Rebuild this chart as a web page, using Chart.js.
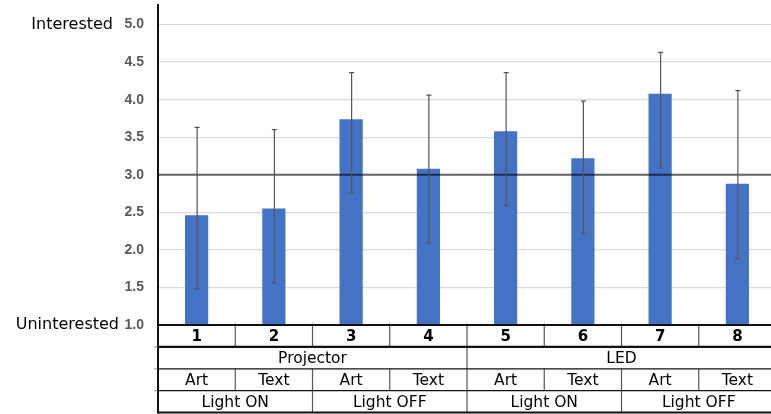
<!DOCTYPE html>
<html><head><meta charset="utf-8">
<script src="https://cdn.jsdelivr.net/npm/chart.js@4.4.1/dist/chart.umd.min.js"></script>
<style>html,body{margin:0;padding:0;background:#fff;overflow:hidden;width:771px;height:414px}#wrap{width:776px;height:414px}canvas{display:block}</style>
</head><body><div id="wrap"><canvas id="c" width="776" height="414"></canvas></div>
<script>
const categories = ['1','2','3','4','5','6','7','8'];
const means = [2.46, 2.55, 3.74, 3.08, 3.58, 3.22, 4.08, 2.88];
const errUpper = [3.63, 3.60, 4.36, 4.06, 4.36, 3.98, 4.63, 4.12];
const errLower = [1.48, 1.56, 2.76, 2.09, 2.59, 2.22, 3.09, 1.88];
const displayTypes = ['Projector', 'LED'];
const contentTypes = ['Art', 'Text', 'Art', 'Text', 'Art', 'Text', 'Art', 'Text'];
const lightStates = ['Light ON', 'Light OFF', 'Light ON', 'Light OFF'];
const yTickValues = [1.0, 1.5, 2.0, 2.5, 3.0, 3.5, 4.0, 4.5, 5.0];
const yEndLabels = ['Uninterested', 'Interested'];
const referenceValue = 3.0;

const TXT_FONT = '"DejaVu Sans", "Noto Sans", sans-serif';

const tablePlugin = {
  id: 'tablePlugin',
  afterDatasetsDraw(chart) {
    const ctx = chart.ctx, ca = chart.chartArea;
    const ys = chart.scales.y;
    const yr = ys.getPixelForValue(referenceValue);
    ctx.save();
    ctx.strokeStyle = 'rgba(0,0,0,0.62)';
    ctx.lineWidth = 2;
    ctx.beginPath(); ctx.moveTo(ca.left, yr); ctx.lineTo(ca.right, yr); ctx.stroke();
    const meta = chart.getDatasetMeta(0);
    ctx.strokeStyle = '#555';
    ctx.lineWidth = 1.2;
    meta.data.forEach((bar, i) => {
      const x = bar.x + 0.5;
      const yt = ys.getPixelForValue(errUpper[i]);
      const yb = ys.getPixelForValue(errLower[i]);
      ctx.beginPath();
      ctx.moveTo(x, yt); ctx.lineTo(x, yb);
      ctx.moveTo(x - 2.5, yt); ctx.lineTo(x + 2.5, yt);
      ctx.moveTo(x - 2.5, yb); ctx.lineTo(x + 2.5, yb);
      ctx.stroke();
    });
    ctx.restore();
  },
  afterDraw(chart) {
    const ctx = chart.ctx, ca = chart.chartArea;
    const xs = chart.scales.x, ys = chart.scales.y;
    const n = categories.length;
    const catW = xs.getPixelForValue(1) - xs.getPixelForValue(0);
    const x0 = xs.getPixelForValue(0) - catW / 2;
    const bx = i => x0 + catW * i;
    const top = ca.bottom;
    const rowH = 21.9;
    const ry = r => top + rowH * r;
    ctx.save();
    ctx.strokeStyle = '#d0d0d0'; ctx.lineWidth = 1;
    for (let i = 1; i < n; i++) { ctx.beginPath(); ctx.moveTo(bx(i), top - 3); ctx.lineTo(bx(i), top); ctx.stroke(); }
    ctx.strokeStyle = '#999';
    for (let r = 1; r <= 3; r++) { ctx.beginPath(); ctx.moveTo(ca.left - 4, ry(r)); ctx.lineTo(ca.left, ry(r)); ctx.stroke(); }
    ctx.strokeStyle = '#555'; ctx.lineWidth = 1.2;
    const vrows = [
      [1,2,3,4,5,6,7],
      [4],
      [1,2,3,4,5,6,7],
      [2,4,6]
    ];
    vrows.forEach((list, r) => {
      list.forEach(i => {
        ctx.beginPath(); ctx.moveTo(bx(i), ry(r)); ctx.lineTo(bx(i), ry(r + 1)); ctx.stroke();
      });
    });
    ctx.strokeStyle = '#111';
    const hw = [2.2, 2.4, 1.3, 1.3, 2];
    hw.forEach((w, r) => {
      ctx.lineWidth = w;
      ctx.beginPath(); ctx.moveTo(ca.left, ry(r)); ctx.lineTo(bx(n) + 2, ry(r)); ctx.stroke();
    });
    ctx.strokeStyle = '#111'; ctx.lineWidth = 2;
    ctx.beginPath(); ctx.moveTo(ca.left, ca.top); ctx.lineTo(ca.left, ry(4) + 1); ctx.stroke();
    ctx.fillStyle = '#000';
    ctx.textAlign = 'center'; ctx.textBaseline = 'middle';
    ctx.font = 'bold 15px ' + TXT_FONT;
    categories.forEach((c, i) => ctx.fillText(c, (bx(i) + bx(i + 1)) / 2, ry(0.5) + 1));
    ctx.font = '15.5px ' + TXT_FONT;
    const span2 = n / displayTypes.length;
    displayTypes.forEach((d, k) => ctx.fillText(d, (bx(k * span2) + bx((k + 1) * span2)) / 2, ry(1.5) + 1));
    contentTypes.forEach((c, i) => ctx.fillText(c, (bx(i) + bx(i + 1)) / 2, ry(2.5) + 1));
    const span4 = n / lightStates.length;
    lightStates.forEach((l, k) => ctx.fillText(l, (bx(k * span4) + bx((k + 1) * span4)) / 2, ry(3.5) + 1));
    ctx.textAlign = 'right';
    ctx.font = '16px ' + TXT_FONT;
    ctx.fillText(yEndLabels[1], 113, ys.getPixelForValue(yTickValues[yTickValues.length - 1]));
    ctx.fillText(yEndLabels[0], 119, ys.getPixelForValue(yTickValues[0]));
    ctx.restore();
  }
};

new Chart(document.getElementById('c'), {
  type: 'bar',
  data: {
    labels: categories,
    datasets: [{
      data: means,
      backgroundColor: '#4472C4',
      borderWidth: 0,
      barPercentage: 0.3,
      categoryPercentage: 1.0
    }]
  },
  options: {
    responsive: false,
    animation: false,
    devicePixelRatio: 1,
    layout: { padding: { top: 5, left: 0, right: 0, bottom: 0 } },
    plugins: { legend: { display: false }, tooltip: { enabled: false }, title: { display: false } },
    scales: {
      x: {
        grid: { display: false },
        border: { display: false },
        ticks: { display: false },
        afterFit(s) { s.height = 89; s.paddingLeft = 0; s.paddingRight = 0; }
      },
      y: {
        min: 1.0,
        max: 5.26,
        afterBuildTicks(s) { s.ticks = yTickValues.map(v => ({ value: v })); },
        ticks: {
          padding: 14,
          color: '#595959',
          font: { family: '"Liberation Sans", Arial, sans-serif', size: 14, weight: 'bold' },
          callback: v => Number(v).toFixed(1)
        },
        grid: {
          drawTicks: false,
          color: ctx => (ctx.tick && ctx.tick.value === referenceValue) ? 'rgba(0,0,0,0)' : '#d9d9d9',
          lineWidth: 1.3
        },
        border: { display: true, color: '#111', width: 2 },
        afterFit(s) { s.width = 158; s.paddingTop = 0; s.paddingBottom = 0; }
      }
    }
  },
  plugins: [tablePlugin]
});
</script>
</body></html>
